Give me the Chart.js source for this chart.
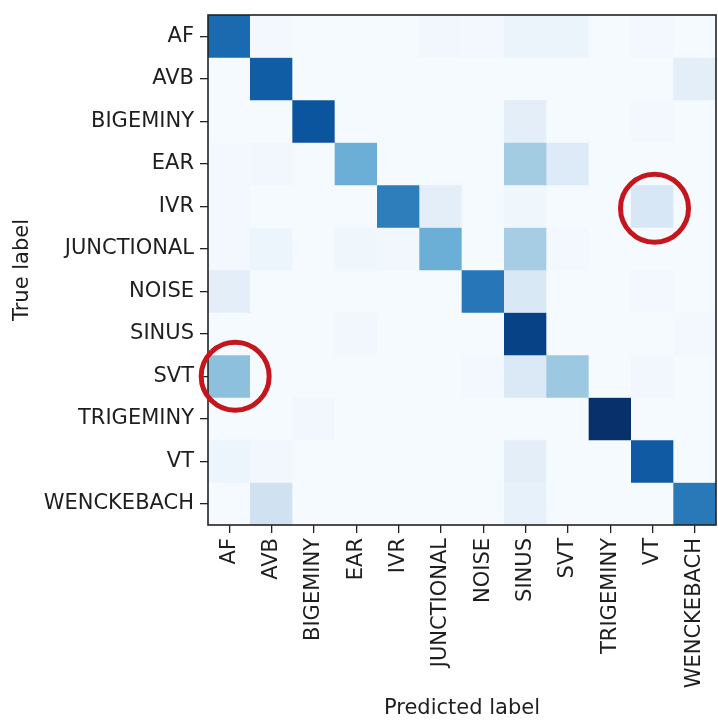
<!DOCTYPE html>
<html>
<head>
<meta charset="utf-8">
<script src="https://cdn.jsdelivr.net/npm/chart.js@4"></script>
<style>
html,body{margin:0;padding:0;background:#fff;}
#wrap{width:718px;height:721px;position:relative;}
</style>
</head>
<body>
<div id="wrap"><canvas id="c" width="718" height="721"></canvas></div>
<script>
const trueLabels = ["AF","AVB","BIGEMINY","EAR","IVR","JUNCTIONAL","NOISE","SINUS","SVT","TRIGEMINY","VT","WENCKEBACH"];
const predLabels = ["AF","AVB","BIGEMINY","EAR","IVR","JUNCTIONAL","NOISE","SINUS","SVT","TRIGEMINY","VT","WENCKEBACH"];

// rows = true label, columns = predicted label (normalized)
const rowAF         = [0.78,0.02,0.01,0.01,0.01,0.03,0.02,0.06,0.06,0.01,0.02,0.01];
const rowAVB        = [0.01,0.83,0.01,0.01,0.01,0.01,0.01,0.01,0.01,0.01,0.01,0.10];
const rowBIGEMINY   = [0.01,0.01,0.86,0.01,0.01,0.01,0.01,0.10,0.01,0.01,0.02,0.01];
const rowEAR        = [0.02,0.03,0.01,0.50,0.01,0.01,0.01,0.36,0.13,0.01,0.01,0.01];
const rowIVR        = [0.02,0.01,0.01,0.01,0.70,0.10,0.01,0.04,0.01,0.01,0.16,0.01];
const rowJUNCTIONAL = [0.02,0.05,0.01,0.04,0.03,0.50,0.01,0.35,0.02,0.01,0.01,0.01];
const rowNOISE      = [0.10,0.01,0.01,0.01,0.01,0.01,0.73,0.15,0.01,0.01,0.02,0.01];
const rowSINUS      = [0.01,0.01,0.01,0.03,0.01,0.01,0.01,0.93,0.01,0.01,0.01,0.02];
const rowSVT        = [0.42,0.01,0.01,0.01,0.01,0.01,0.02,0.14,0.38,0.01,0.03,0.01];
const rowTRIGEMINY  = [0.01,0.01,0.03,0.01,0.01,0.01,0.01,0.01,0.01,1.00,0.01,0.01];
const rowVT         = [0.05,0.03,0.01,0.01,0.01,0.01,0.01,0.10,0.01,0.01,0.84,0.01];
const rowWENCKEBACH = [0.01,0.20,0.01,0.01,0.01,0.01,0.01,0.08,0.01,0.01,0.01,0.72];

const matrix = [rowAF,rowAVB,rowBIGEMINY,rowEAR,rowIVR,rowJUNCTIONAL,rowNOISE,rowSINUS,rowSVT,rowTRIGEMINY,rowVT,rowWENCKEBACH];

// highlighted cells (true row, predicted column)
const highlights = [
  {row:"SVT", col:"AF", dx:6, dy:0},
  {row:"IVR", col:"VT", dx:2, dy:2}
];

const bluesStops = ["#f7fbff","#deebf7","#c6dbef","#9ecae1","#6baed6","#4292c6","#2171b5","#08519c","#08306b"];
function hex2rgb(h){return [parseInt(h.substr(1,2),16),parseInt(h.substr(3,2),16),parseInt(h.substr(5,2),16)];}
const bluesRGB = bluesStops.map(hex2rgb);
function blues(t){
  t = Math.max(0, Math.min(1, t));
  const p = t * (bluesRGB.length - 1);
  const i = Math.min(Math.floor(p), bluesRGB.length - 2);
  const f = p - i;
  const a = bluesRGB[i], b = bluesRGB[i+1];
  return "rgb(" + [0,1,2].map(k => Math.round(a[k] + (b[k]-a[k])*f)).join(",") + ")";
}
const vmax = Math.max(...matrix.map(r => Math.max(...r)));

const datasets = matrix.map((row, i) => ({
  label: trueLabels[i],
  data: row.map(() => [i - 0.5, i + 0.5]),
  backgroundColor: row.map(v => blues(v / vmax)),
  borderWidth: 0,
  barPercentage: 1.0,
  categoryPercentage: 1.0,
  grouped: false
}));

const FONT = "DejaVu Sans";
const TXT = "#1e1e1e";

const overlay = {
  id: "overlay",
  afterDatasetsDraw(chart) {
    const {ctx, chartArea, scales} = chart;
    ctx.save();
    ctx.strokeStyle = "#222";
    ctx.lineWidth = 1.6;
    ctx.strokeRect(chartArea.left, chartArea.top, chartArea.right - chartArea.left, chartArea.bottom - chartArea.top);
    ctx.strokeStyle = "#c4161c";
    ctx.lineWidth = 5;
    highlights.forEach(h => {
      const cx = scales.x.getPixelForValue(predLabels.indexOf(h.col)) + h.dx;
      const cy = scales.y.getPixelForValue(trueLabels.indexOf(h.row)) + h.dy;
      ctx.beginPath();
      ctx.arc(cx, cy, 34, 0, Math.PI * 2);
      ctx.stroke();
    });
    ctx.restore();
  }
};

new Chart(document.getElementById("c"), {
  type: "bar",
  data: { labels: predLabels, datasets },
  options: {
    responsive: false,
    animation: false,
    layout: { padding: { top: 15, right: 2, left: 0, bottom: 0 } },
    plugins: { legend: { display: false }, tooltip: { enabled: false } },
    scales: {
      x: {
        type: "category",
        offset: true,
        grid: { display: true, drawOnChartArea: false, drawTicks: true, tickLength: 8, offset: false, color: "#222", lineWidth: 1.3 },
        border: { display: false },
        ticks: { autoSkip: false, maxRotation: 90, minRotation: 90, padding: 5, color: TXT, font: { family: FONT, size: 21 } },
        title: { display: true, text: "Predicted label", color: TXT, font: { family: FONT, size: 21 }, padding: { top: 0, bottom: 0 } },
        afterFit(scale) { scale.height = 196; scale.paddingLeft = 0; scale.paddingRight = 0; }
      },
      y: {
        type: "linear",
        reverse: true,
        min: -0.5,
        max: 11.5,
        afterBuildTicks(scale) { scale.ticks = trueLabels.map((_, i) => ({ value: i })); },
        grid: { display: true, drawOnChartArea: false, drawTicks: true, tickLength: 8, color: "#222", lineWidth: 1.3 },
        border: { display: false },
        ticks: { autoSkip: false, padding: 6, color: TXT, font: { family: FONT, size: 21 }, callback: (v) => trueLabels[v] },
        title: { display: true, text: "True label", color: TXT, font: { family: FONT, size: 21 }, padding: { top: 10, bottom: 0 } },
        afterFit(scale) { scale.width = 208; scale.paddingTop = 0; scale.paddingBottom = 0; }
      }
    }
  },
  plugins: [overlay]
});
</script>
</body>
</html>
